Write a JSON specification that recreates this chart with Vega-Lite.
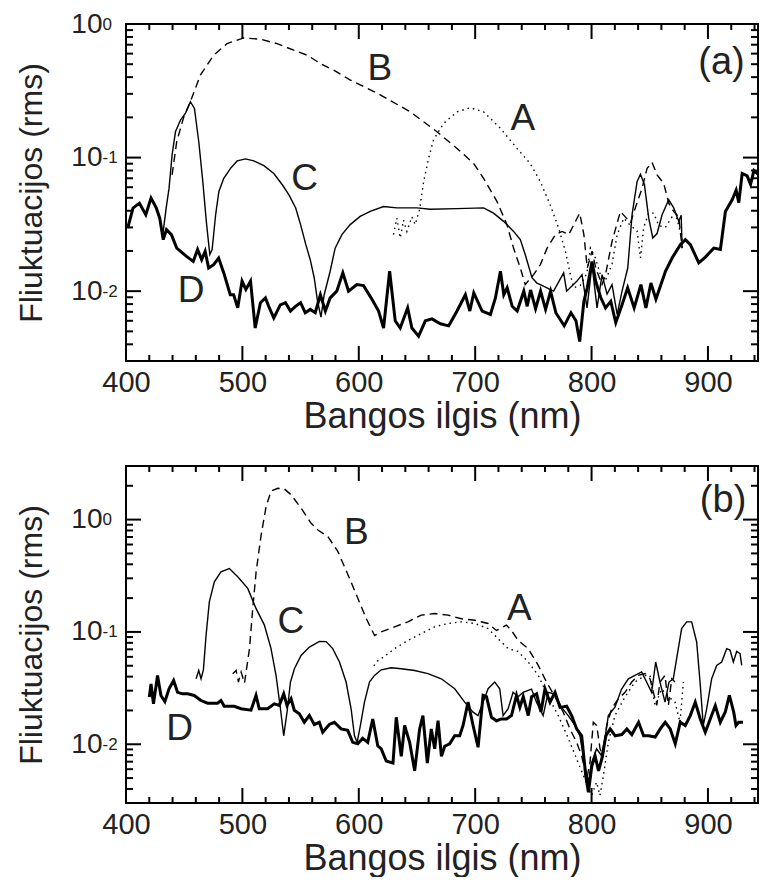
{
  "$schema": "https://vega.github.io/schema/vega-lite/v6.json",
  "padding": {"left": 14, "top": 9, "right": 0, "bottom": 0},
  "spacing": 29,
  "config": {
    "font": "Liberation Sans",
    "view": {"stroke": "#000", "strokeWidth": 2},
    "axis": {"grid": false, "domain": false, "labelFont": "Liberation Sans", "labelFontSize": 29, "labelColor": "#222", "titleFont": "Liberation Sans", "titleColor": "#222", "titleFontWeight": "normal", "labelFlush": false, "labelOverlap": false, "labelBound": false},
    "axisX": {"titleFontSize": 36},
    "axisY": {"titleFontSize": 32},
    "rule": {"color": "#000", "strokeWidth": 2, "opacity": 1}
  },
  "datasets": {
    "a": [
      {"s":"D","x":401.5,"y":0.0297},{"s":"D","x":406,"y":0.0419},{"s":"D","x":411.5,"y":0.0456},{"s":"D","x":417,"y":0.0373},{"s":"D","x":421.5,"y":0.0497},{"s":"D","x":426,"y":0.042},{"s":"D","x":429,"y":0.0352},{"s":"D","x":432,"y":0.0243},{"s":"D","x":434.8,"y":0.0289},{"s":"D","x":439,"y":0.0265},{"s":"D","x":443.6,"y":0.021},{"s":"D","x":452,"y":0.0182},{"s":"D","x":457.8,"y":0.0167},{"s":"D","x":461.5,"y":0.0205},{"s":"D","x":465,"y":0.0172},{"s":"D","x":468,"y":0.0199},{"s":"D","x":471,"y":0.0149},{"s":"D","x":475.3,"y":0.0158},{"s":"D","x":479.6,"y":0.0177},{"s":"D","x":484,"y":0.0137},{"s":"D","x":489.6,"y":0.0094},{"s":"D","x":492.5,"y":0.0094},{"s":"D","x":496,"y":0.0075},{"s":"D","x":499.7,"y":0.0119},{"s":"D","x":503,"y":0.0103},{"s":"D","x":507,"y":0.0119},{"s":"D","x":511,"y":0.0053},{"s":"D","x":515.5,"y":0.0082},{"s":"D","x":519.8,"y":0.0089},{"s":"D","x":522.6,"y":0.0077},{"s":"D","x":527,"y":0.0063},{"s":"D","x":532.6,"y":0.0079},{"s":"D","x":537,"y":0.0082},{"s":"D","x":541.3,"y":0.0071},{"s":"D","x":545.6,"y":0.0077},{"s":"D","x":550,"y":0.0082},{"s":"D","x":554,"y":0.0069},{"s":"D","x":558.3,"y":0.0073},{"s":"D","x":562.6,"y":0.0069},{"s":"D","x":567,"y":0.0094},{"s":"D","x":571.3,"y":0.0071},{"s":"D","x":575.4,"y":0.0089},{"s":"D","x":581.1,"y":0.010},{"s":"D","x":586.3,"y":0.0137},{"s":"D","x":591.2,"y":0.010},{"s":"D","x":598.3,"y":0.0112},{"s":"D","x":604.1,"y":0.011},{"s":"D","x":611.3,"y":0.0087},{"s":"D","x":617,"y":0.0071},{"s":"D","x":621.3,"y":0.0053},{"s":"D","x":626.5,"y":0.0141},{"s":"D","x":631.3,"y":0.006},{"s":"D","x":635.6,"y":0.0053},{"s":"D","x":642,"y":0.0075},{"s":"D","x":645.6,"y":0.0053},{"s":"D","x":651.4,"y":0.0046},{"s":"D","x":657.2,"y":0.006},{"s":"D","x":662.9,"y":0.0062},{"s":"D","x":670.1,"y":0.0057},{"s":"D","x":677.3,"y":0.0055},{"s":"D","x":684.4,"y":0.0071},{"s":"D","x":691.6,"y":0.0094},{"s":"D","x":695.4,"y":0.0071},{"s":"D","x":698.8,"y":0.0097},{"s":"D","x":706,"y":0.0071},{"s":"D","x":713.1,"y":0.0067},{"s":"D","x":717.4,"y":0.0089},{"s":"D","x":721.7,"y":0.0141},{"s":"D","x":724.6,"y":0.0094},{"s":"D","x":727.5,"y":0.0106},{"s":"D","x":731.8,"y":0.0077},{"s":"D","x":736.1,"y":0.0071},{"s":"D","x":741.8,"y":0.010},{"s":"D","x":744.7,"y":0.0077},{"s":"D","x":747.6,"y":0.0102},{"s":"D","x":751.9,"y":0.0074},{"s":"D","x":756.2,"y":0.010},{"s":"D","x":760.5,"y":0.0073},{"s":"D","x":764.8,"y":0.010},{"s":"D","x":769.3,"y":0.0069},{"s":"D","x":776.5,"y":0.0055},{"s":"D","x":782.3,"y":0.0069},{"s":"D","x":786.6,"y":0.006},{"s":"D","x":789.8,"y":0.0042},{"s":"D","x":793.4,"y":0.0084},{"s":"D","x":796.3,"y":0.0106},{"s":"D","x":800.4,"y":0.0167},{"s":"D","x":803.6,"y":0.0118},{"s":"D","x":807.8,"y":0.009},{"s":"D","x":812,"y":0.0075},{"s":"D","x":816.5,"y":0.0084},{"s":"D","x":820.8,"y":0.0058},{"s":"D","x":826.2,"y":0.0079},{"s":"D","x":831,"y":0.0106},{"s":"D","x":836.6,"y":0.0075},{"s":"D","x":842.4,"y":0.0112},{"s":"D","x":846.7,"y":0.0075},{"s":"D","x":851,"y":0.0115},{"s":"D","x":855.3,"y":0.0087},{"s":"D","x":859.6,"y":0.0112},{"s":"D","x":863.5,"y":0.0141},{"s":"D","x":869.2,"y":0.0177},{"s":"D","x":876.3,"y":0.0223},{"s":"D","x":880.6,"y":0.0243},{"s":"D","x":884.9,"y":0.0223},{"s":"D","x":892.1,"y":0.0163},{"s":"D","x":897.8,"y":0.018},{"s":"D","x":905,"y":0.021},{"s":"D","x":910.7,"y":0.0205},{"s":"D","x":915,"y":0.0395},{"s":"D","x":920.8,"y":0.0483},{"s":"D","x":924.2,"y":0.057},{"s":"D","x":926.5,"y":0.046},{"s":"D","x":929.4,"y":0.076},{"s":"D","x":933.7,"y":0.073},{"s":"D","x":936.6,"y":0.063},{"s":"D","x":939.5,"y":0.08},{"s":"D","x":943,"y":0.075},
      {"s":"C","x":431.6,"y":0.0265},{"s":"C","x":434.5,"y":0.0419},{"s":"C","x":437,"y":0.059},{"s":"C","x":439.6,"y":0.105},{"s":"C","x":442.5,"y":0.156},{"s":"C","x":446.8,"y":0.191},{"s":"C","x":451,"y":0.214},{"s":"C","x":455.3,"y":0.262},{"s":"C","x":458.8,"y":0.233},{"s":"C","x":462.5,"y":0.132},{"s":"C","x":466,"y":0.066},{"s":"C","x":469,"y":0.0333},{"s":"C","x":472,"y":0.0188},{"s":"C","x":474,"y":0.0205},{"s":"C","x":477,"y":0.0373},{"s":"C","x":479.8,"y":0.0557},{"s":"C","x":484,"y":0.070},{"s":"C","x":489.8,"y":0.083},{"s":"C","x":495.5,"y":0.0944},{"s":"C","x":502.7,"y":0.0977},{"s":"C","x":509.8,"y":0.0944},{"s":"C","x":518.5,"y":0.087},{"s":"C","x":527,"y":0.076},{"s":"C","x":534.3,"y":0.0626},{"s":"C","x":540,"y":0.0526},{"s":"C","x":545.8,"y":0.0419},{"s":"C","x":550,"y":0.0315},{"s":"C","x":554.5,"y":0.0223},{"s":"C","x":558.3,"y":0.0172},{"s":"C","x":561.7,"y":0.0126},{"s":"C","x":564.6,"y":0.0084},{"s":"C","x":567.5,"y":0.0064},{"s":"C","x":570.3,"y":0.0094},{"s":"C","x":575.4,"y":0.0141},{"s":"C","x":579.7,"y":0.021},{"s":"C","x":585.5,"y":0.0265},{"s":"C","x":592.6,"y":0.0315},{"s":"C","x":601.2,"y":0.0363},{"s":"C","x":609.8,"y":0.0395},{"s":"C","x":621.3,"y":0.043},{"s":"C","x":632.7,"y":0.042},{"s":"C","x":650,"y":0.042},{"s":"C","x":661.4,"y":0.041},{"s":"C","x":684.4,"y":0.0415},{"s":"C","x":707.2,"y":0.042},{"s":"C","x":715.8,"y":0.0384},{"s":"C","x":724.4,"y":0.0333},{"s":"C","x":733,"y":0.028},{"s":"C","x":738.8,"y":0.0243},{"s":"C","x":743,"y":0.0188},{"s":"C","x":748.8,"y":0.0126},{"s":"C","x":753,"y":0.0115},{"s":"C","x":756,"y":0.0112},{"s":"C","x":767.4,"y":0.010},{"s":"C","x":776,"y":0.0137},{"s":"C","x":778.6,"y":0.010},{"s":"C","x":787.5,"y":0.0119},{"s":"C","x":791.8,"y":0.0133},{"s":"C","x":796.1,"y":0.0075},{"s":"C","x":800.4,"y":0.0158},{"s":"C","x":804.7,"y":0.0075},{"s":"C","x":809,"y":0.0133},{"s":"C","x":813.3,"y":0.0095},{"s":"C","x":817.6,"y":0.0112},{"s":"C","x":822,"y":0.0067},{"s":"C","x":826.2,"y":0.010},{"s":"C","x":831.1,"y":0.0149},{"s":"C","x":834.8,"y":0.0373},{"s":"C","x":839.1,"y":0.066},{"s":"C","x":842,"y":0.075},{"s":"C","x":845.4,"y":0.063},{"s":"C","x":849.1,"y":0.0352},{"s":"C","x":852.6,"y":0.025},{"s":"C","x":856.3,"y":0.027},{"s":"C","x":860.6,"y":0.0373},{"s":"C","x":866.3,"y":0.0483},{"s":"C","x":870.6,"y":0.042},{"s":"C","x":874.9,"y":0.0333},{"s":"C","x":877,"y":0.037},{"s":"C","x":877.8,"y":0.021},
      {"s":"B","x":439.6,"y":0.0743},{"s":"B","x":443.6,"y":0.132},{"s":"B","x":449.3,"y":0.197},{"s":"B","x":455.3,"y":0.262},{"s":"B","x":463.9,"y":0.414},{"s":"B","x":475.3,"y":0.584},{"s":"B","x":486.8,"y":0.713},{"s":"B","x":501.1,"y":0.787},{"s":"B","x":515.5,"y":0.769},{"s":"B","x":529.8,"y":0.713},{"s":"B","x":544.1,"y":0.637},{"s":"B","x":555.6,"y":0.584},{"s":"B","x":567,"y":0.506},{"s":"B","x":578.5,"y":0.451},{"s":"B","x":592.8,"y":0.38},{"s":"B","x":607.1,"y":0.33},{"s":"B","x":618.4,"y":0.295},{"s":"B","x":644.2,"y":0.22},{"s":"B","x":667.2,"y":0.156},{"s":"B","x":684.4,"y":0.117},{"s":"B","x":698.6,"y":0.0907},{"s":"B","x":707.2,"y":0.070},{"s":"B","x":718.7,"y":0.047},{"s":"B","x":727.3,"y":0.0315},{"s":"B","x":733,"y":0.021},{"s":"B","x":738.8,"y":0.0149},{"s":"B","x":743,"y":0.0112},{"s":"B","x":750.2,"y":0.0133},{"s":"B","x":756,"y":0.0158},{"s":"B","x":761.8,"y":0.021},{"s":"B","x":769,"y":0.0265},{"s":"B","x":774.7,"y":0.028},{"s":"B","x":780.4,"y":0.0265},{"s":"B","x":783.3,"y":0.0297},{"s":"B","x":789.8,"y":0.0384},{"s":"B","x":793.4,"y":0.0265},{"s":"B","x":796.3,"y":0.0149},{"s":"B","x":800.4,"y":0.0199},{"s":"B","x":803.6,"y":0.0149},{"s":"B","x":809,"y":0.0112},{"s":"B","x":812,"y":0.0133},{"s":"B","x":817.6,"y":0.0236},{"s":"B","x":824.8,"y":0.0395},{"s":"B","x":829,"y":0.036},{"s":"B","x":833.4,"y":0.0324},{"s":"B","x":837.6,"y":0.042},{"s":"B","x":843.4,"y":0.059},{"s":"B","x":847.7,"y":0.083},{"s":"B","x":852,"y":0.092},{"s":"B","x":856.3,"y":0.0743},{"s":"B","x":862,"y":0.064},{"s":"B","x":866.3,"y":0.0456},{"s":"B","x":870.6,"y":0.0395},{"s":"B","x":874.9,"y":0.036},{"s":"B","x":877.8,"y":0.021},
      {"s":"A","x":629.8,"y":0.0265},{"s":"A","x":632.7,"y":0.0352},{"s":"A","x":635.6,"y":0.025},{"s":"A","x":638.5,"y":0.034},{"s":"A","x":641.3,"y":0.028},{"s":"A","x":645.6,"y":0.036},{"s":"A","x":648.5,"y":0.0315},{"s":"A","x":652.2,"y":0.0406},{"s":"A","x":655.7,"y":0.066},{"s":"A","x":660,"y":0.099},{"s":"A","x":664.2,"y":0.1355},{"s":"A","x":672.8,"y":0.18},{"s":"A","x":684.4,"y":0.22},{"s":"A","x":695.8,"y":0.236},{"s":"A","x":707.2,"y":0.22},{"s":"A","x":721.6,"y":0.166},{"s":"A","x":736,"y":0.117},{"s":"A","x":747.4,"y":0.09},{"s":"A","x":756,"y":0.066},{"s":"A","x":764.6,"y":0.044},{"s":"A","x":771.7,"y":0.0297},{"s":"A","x":777.5,"y":0.0199},{"s":"A","x":781.8,"y":0.0133},{"s":"A","x":784.6,"y":0.0106},{"s":"A","x":790.3,"y":0.011},{"s":"A","x":796.1,"y":0.0137},{"s":"A","x":799,"y":0.021},{"s":"A","x":803.3,"y":0.0177},{"s":"A","x":807.6,"y":0.0133},{"s":"A","x":811.9,"y":0.012},{"s":"A","x":817.6,"y":0.016},{"s":"A","x":822,"y":0.0265},{"s":"A","x":827.7,"y":0.0352},{"s":"A","x":833.4,"y":0.031},{"s":"A","x":839.1,"y":0.0283},{"s":"A","x":842,"y":0.0177},{"s":"A","x":844.8,"y":0.03},{"s":"A","x":849.1,"y":0.0384},{"s":"A","x":853.4,"y":0.0384},{"s":"A","x":857.7,"y":0.031},{"s":"A","x":863.4,"y":0.03},{"s":"A","x":869.2,"y":0.036},{"s":"A","x":873.5,"y":0.035},{"s":"A","x":877.8,"y":0.024}
    ],
    "b": [
      {"s":"D","x":420,"y":0.0263},{"s":"D","x":421.5,"y":0.0345},{"s":"D","x":423.6,"y":0.0229},{"s":"D","x":427.1,"y":0.041},{"s":"D","x":430,"y":0.0272},{"s":"D","x":433.4,"y":0.024},{"s":"D","x":437,"y":0.0312},{"s":"D","x":440.9,"y":0.037},{"s":"D","x":444.3,"y":0.029},{"s":"D","x":448.6,"y":0.0281},{"s":"D","x":452.9,"y":0.0281},{"s":"D","x":458.6,"y":0.0272},{"s":"D","x":464.4,"y":0.0245},{"s":"D","x":470.1,"y":0.0232},{"s":"D","x":478.7,"y":0.0232},{"s":"D","x":481.6,"y":0.0245},{"s":"D","x":484.4,"y":0.0218},{"s":"D","x":493,"y":0.0218},{"s":"D","x":498.8,"y":0.0207},{"s":"D","x":507.4,"y":0.0201},{"s":"D","x":511.7,"y":0.0272},{"s":"D","x":514.5,"y":0.0207},{"s":"D","x":521.7,"y":0.0207},{"s":"D","x":527.4,"y":0.0229},{"s":"D","x":531.7,"y":0.0222},{"s":"D","x":535.5,"y":0.0281},{"s":"D","x":538.3,"y":0.0222},{"s":"D","x":541.8,"y":0.0254},{"s":"D","x":544.6,"y":0.0201},{"s":"D","x":548.9,"y":0.0187},{"s":"D","x":553.2,"y":0.0157},{"s":"D","x":557.5,"y":0.018},{"s":"D","x":561.8,"y":0.015},{"s":"D","x":566.1,"y":0.0157},{"s":"D","x":569,"y":0.0128},{"s":"D","x":574.7,"y":0.015},{"s":"D","x":579,"y":0.0157},{"s":"D","x":584.8,"y":0.0137},{"s":"D","x":590.5,"y":0.0133},{"s":"D","x":594.8,"y":0.0104},{"s":"D","x":599.1,"y":0.0101},{"s":"D","x":603.4,"y":0.0113},{"s":"D","x":607.7,"y":0.0104},{"s":"D","x":612,"y":0.0168},{"s":"D","x":616.3,"y":0.0097},{"s":"D","x":619.3,"y":0.0091},{"s":"D","x":623.6,"y":0.0071},{"s":"D","x":629.4,"y":0.0068},{"s":"D","x":632.2,"y":0.0174},{"s":"D","x":636.5,"y":0.0078},{"s":"D","x":639.4,"y":0.0147},{"s":"D","x":643.7,"y":0.0104},{"s":"D","x":648,"y":0.0058},{"s":"D","x":652.3,"y":0.0137},{"s":"D","x":655.1,"y":0.018},{"s":"D","x":658.9,"y":0.0068},{"s":"D","x":662.3,"y":0.0137},{"s":"D","x":665.2,"y":0.0091},{"s":"D","x":668.1,"y":0.0162},{"s":"D","x":671,"y":0.0078},{"s":"D","x":673.8,"y":0.0096},{"s":"D","x":678.1,"y":0.0101},{"s":"D","x":682.4,"y":0.0119},{"s":"D","x":686.7,"y":0.0119},{"s":"D","x":689.6,"y":0.0147},{"s":"D","x":693.9,"y":0.0237},{"s":"D","x":698.2,"y":0.0147},{"s":"D","x":702.5,"y":0.0094},{"s":"D","x":706.8,"y":0.0272},{"s":"D","x":709.7,"y":0.0265},{"s":"D","x":714,"y":0.0174},{"s":"D","x":718.3,"y":0.0162},{"s":"D","x":722.6,"y":0.0168},{"s":"D","x":726.9,"y":0.0168},{"s":"D","x":731.2,"y":0.018},{"s":"D","x":735.5,"y":0.0272},{"s":"D","x":738.4,"y":0.0213},{"s":"D","x":741.3,"y":0.0265},{"s":"D","x":745.6,"y":0.018},{"s":"D","x":748.5,"y":0.0265},{"s":"D","x":752.8,"y":0.0281},{"s":"D","x":756.5,"y":0.0194},{"s":"D","x":760,"y":0.0312},{"s":"D","x":764.3,"y":0.0237},{"s":"D","x":768.6,"y":0.029},{"s":"D","x":772.9,"y":0.0213},{"s":"D","x":778.6,"y":0.0218},{"s":"D","x":782.9,"y":0.018},{"s":"D","x":787.2,"y":0.0137},{"s":"D","x":791.5,"y":0.0119},{"s":"D","x":795,"y":0.00525},{"s":"D","x":797.3,"y":0.00373},{"s":"D","x":800.2,"y":0.0064},{"s":"D","x":803,"y":0.0079},{"s":"D","x":806,"y":0.0058},{"s":"D","x":808.8,"y":0.0074},{"s":"D","x":812.3,"y":0.0119},{"s":"D","x":816,"y":0.0137},{"s":"D","x":820.3,"y":0.0119},{"s":"D","x":826,"y":0.0122},{"s":"D","x":830.3,"y":0.0137},{"s":"D","x":834.6,"y":0.0122},{"s":"D","x":840.4,"y":0.0157},{"s":"D","x":844.7,"y":0.0119},{"s":"D","x":849,"y":0.0119},{"s":"D","x":854.7,"y":0.0116},{"s":"D","x":859,"y":0.0137},{"s":"D","x":863.3,"y":0.0157},{"s":"D","x":867.6,"y":0.0137},{"s":"D","x":871.9,"y":0.0101},{"s":"D","x":876.2,"y":0.0157},{"s":"D","x":880.5,"y":0.0147},{"s":"D","x":884.8,"y":0.018},{"s":"D","x":889.1,"y":0.0237},{"s":"D","x":893.4,"y":0.0168},{"s":"D","x":897.7,"y":0.0128},{"s":"D","x":902,"y":0.0168},{"s":"D","x":906.3,"y":0.0221},{"s":"D","x":910.6,"y":0.0157},{"s":"D","x":914.9,"y":0.0194},{"s":"D","x":918.4,"y":0.0272},{"s":"D","x":922.1,"y":0.0194},{"s":"D","x":924.1,"y":0.0147},{"s":"D","x":926.4,"y":0.0157},{"s":"D","x":930.1,"y":0.0157},
      {"s":"C","x":460.2,"y":0.0383},{"s":"C","x":462.5,"y":0.0454},{"s":"C","x":464.5,"y":0.0383},{"s":"C","x":466.5,"y":0.046},{"s":"C","x":468.8,"y":0.0933},{"s":"C","x":471.6,"y":0.185},{"s":"C","x":475.9,"y":0.279},{"s":"C","x":481.6,"y":0.343},{"s":"C","x":488.8,"y":0.367},{"s":"C","x":496,"y":0.31},{"s":"C","x":504.6,"y":0.244},{"s":"C","x":511.7,"y":0.162},{"s":"C","x":518.9,"y":0.115},{"s":"C","x":524.6,"y":0.071},{"s":"C","x":528.9,"y":0.041},{"s":"C","x":532.7,"y":0.0207},{"s":"C","x":535.5,"y":0.0119},{"s":"C","x":538.4,"y":0.0194},{"s":"C","x":541.3,"y":0.0358},{"s":"C","x":544.7,"y":0.047},{"s":"C","x":550.4,"y":0.0618},{"s":"C","x":557.6,"y":0.0734},{"s":"C","x":566.2,"y":0.0824},{"s":"C","x":571.9,"y":0.082},{"s":"C","x":577.6,"y":0.071},{"s":"C","x":583.4,"y":0.054},{"s":"C","x":589.1,"y":0.0358},{"s":"C","x":593.4,"y":0.0207},{"s":"C","x":596.3,"y":0.0119},{"s":"C","x":598.6,"y":0.0104},{"s":"C","x":601.4,"y":0.0147},{"s":"C","x":604.9,"y":0.0237},{"s":"C","x":609.2,"y":0.0358},{"s":"C","x":613.5,"y":0.041},{"s":"C","x":619.3,"y":0.046},{"s":"C","x":627.9,"y":0.048},{"s":"C","x":636.5,"y":0.047},{"s":"C","x":648,"y":0.0454},{"s":"C","x":659.4,"y":0.0426},{"s":"C","x":670.9,"y":0.0383},{"s":"C","x":682.4,"y":0.0312},{"s":"C","x":691,"y":0.0237},{"s":"C","x":698.2,"y":0.0193},{"s":"C","x":702.5,"y":0.018},{"s":"C","x":706.8,"y":0.0237},{"s":"C","x":711.1,"y":0.0312},{"s":"C","x":716.8,"y":0.0358},{"s":"C","x":721.1,"y":0.0312},{"s":"C","x":724,"y":0.018},{"s":"C","x":728.3,"y":0.0207},{"s":"C","x":732.6,"y":0.029},{"s":"C","x":736.9,"y":0.0265},{"s":"C","x":741.2,"y":0.029},{"s":"C","x":748.4,"y":0.031},{"s":"C","x":752.7,"y":0.0237},{"s":"C","x":758.4,"y":0.018},{"s":"C","x":762.7,"y":0.029},{"s":"C","x":768.5,"y":0.028},{"s":"C","x":774.2,"y":0.0213},{"s":"C","x":780,"y":0.018},{"s":"C","x":785.7,"y":0.0147},{"s":"C","x":790,"y":0.0119},{"s":"C","x":794.3,"y":0.0064},{"s":"C","x":797.2,"y":0.00458},{"s":"C","x":800,"y":0.0068},{"s":"C","x":804.3,"y":0.0091},{"s":"C","x":808.6,"y":0.0079},{"s":"C","x":811.5,"y":0.0113},{"s":"C","x":814.4,"y":0.018},{"s":"C","x":820.1,"y":0.0214},{"s":"C","x":825.8,"y":0.031},{"s":"C","x":831.6,"y":0.0383},{"s":"C","x":837.3,"y":0.041},{"s":"C","x":843,"y":0.044},{"s":"C","x":847.3,"y":0.0358},{"s":"C","x":851.6,"y":0.029},{"s":"C","x":855.1,"y":0.054},{"s":"C","x":858.8,"y":0.0358},{"s":"C","x":863.1,"y":0.0237},{"s":"C","x":866.5,"y":0.0358},{"s":"C","x":870.2,"y":0.0383},{"s":"C","x":873.1,"y":0.0578},{"s":"C","x":877.4,"y":0.107},{"s":"C","x":881.7,"y":0.123},{"s":"C","x":886,"y":0.123},{"s":"C","x":890.3,"y":0.0814},{"s":"C","x":893.2,"y":0.0358},{"s":"C","x":896,"y":0.0147},{"s":"C","x":898.9,"y":0.0207},{"s":"C","x":903.2,"y":0.0383},{"s":"C","x":907.5,"y":0.0503},{"s":"C","x":911.8,"y":0.054},{"s":"C","x":916.1,"y":0.071},{"s":"C","x":919,"y":0.069},{"s":"C","x":921.8,"y":0.054},{"s":"C","x":924.7,"y":0.067},{"s":"C","x":927.6,"y":0.064},{"s":"C","x":929,"y":0.0503},
      {"s":"B","x":491.7,"y":0.0425},{"s":"B","x":494.6,"y":0.0454},{"s":"B","x":496.6,"y":0.0358},{"s":"B","x":498.9,"y":0.044},{"s":"B","x":501.8,"y":0.035},{"s":"B","x":506.1,"y":0.071},{"s":"B","x":508.9,"y":0.162},{"s":"B","x":511.8,"y":0.343},{"s":"B","x":516.1,"y":0.729},{"s":"B","x":520.4,"y":1.31},{"s":"B","x":524.7,"y":1.80},{"s":"B","x":530.4,"y":1.90},{"s":"B","x":536.2,"y":1.87},{"s":"B","x":541.9,"y":1.66},{"s":"B","x":550.5,"y":1.26},{"s":"B","x":559.1,"y":0.927},{"s":"B","x":564.9,"y":0.807},{"s":"B","x":573.5,"y":0.705},{"s":"B","x":582.1,"y":0.518},{"s":"B","x":592.1,"y":0.299},{"s":"B","x":599.3,"y":0.198},{"s":"B","x":606.5,"y":0.131},{"s":"B","x":613.6,"y":0.093},{"s":"B","x":619.3,"y":0.10},{"s":"B","x":630.8,"y":0.111},{"s":"B","x":642.2,"y":0.123},{"s":"B","x":653.7,"y":0.141},{"s":"B","x":665.2,"y":0.146},{"s":"B","x":676.7,"y":0.141},{"s":"B","x":688.2,"y":0.131},{"s":"B","x":699.6,"y":0.127},{"s":"B","x":711.1,"y":0.119},{"s":"B","x":718.3,"y":0.103},{"s":"B","x":726.9,"y":0.115},{"s":"B","x":731.2,"y":0.103},{"s":"B","x":736.9,"y":0.084},{"s":"B","x":745.6,"y":0.071},{"s":"B","x":754.2,"y":0.0503},{"s":"B","x":761.3,"y":0.0358},{"s":"B","x":768.5,"y":0.0265},{"s":"B","x":775.7,"y":0.0193},{"s":"B","x":781.4,"y":0.0137},{"s":"B","x":787.2,"y":0.0104},{"s":"B","x":791.5,"y":0.0079},{"s":"B","x":795.8,"y":0.0049},{"s":"B","x":798.6,"y":0.0068},{"s":"B","x":801.5,"y":0.0157},{"s":"B","x":804.4,"y":0.0147},{"s":"B","x":807.3,"y":0.0091},{"s":"B","x":810.1,"y":0.0079},{"s":"B","x":813,"y":0.0147},{"s":"B","x":817.3,"y":0.0207},{"s":"B","x":823,"y":0.0254},{"s":"B","x":828.8,"y":0.029},{"s":"B","x":834.5,"y":0.0358},{"s":"B","x":840.2,"y":0.041},{"s":"B","x":845.9,"y":0.0426},{"s":"B","x":850.2,"y":0.0383},{"s":"B","x":853.1,"y":0.029},{"s":"B","x":856,"y":0.0222},{"s":"B","x":858.8,"y":0.0358},{"s":"B","x":863.1,"y":0.041},{"s":"B","x":866,"y":0.0222},{"s":"B","x":868.9,"y":0.0383},{"s":"B","x":871.7,"y":0.0358},
      {"s":"A","x":613,"y":0.05},{"s":"A","x":616,"y":0.055},{"s":"A","x":619.3,"y":0.0578},{"s":"A","x":630.8,"y":0.071},{"s":"A","x":642.2,"y":0.084},{"s":"A","x":653.7,"y":0.0966},{"s":"A","x":665.2,"y":0.111},{"s":"A","x":676.7,"y":0.119},{"s":"A","x":688.2,"y":0.123},{"s":"A","x":699.6,"y":0.119},{"s":"A","x":711.1,"y":0.107},{"s":"A","x":719.7,"y":0.087},{"s":"A","x":728.3,"y":0.071},{"s":"A","x":736.9,"y":0.067},{"s":"A","x":745.6,"y":0.054},{"s":"A","x":754.2,"y":0.041},{"s":"A","x":762.8,"y":0.0265},{"s":"A","x":771.4,"y":0.018},{"s":"A","x":780,"y":0.0113},{"s":"A","x":788.6,"y":0.0068},{"s":"A","x":794.3,"y":0.0049},{"s":"A","x":800,"y":0.0035},{"s":"A","x":804.3,"y":0.0046},{"s":"A","x":807.2,"y":0.0035},{"s":"A","x":810.1,"y":0.0052},{"s":"A","x":814.4,"y":0.0104},{"s":"A","x":820.1,"y":0.018},{"s":"A","x":828.8,"y":0.0265},{"s":"A","x":837.3,"y":0.0358},{"s":"A","x":845.9,"y":0.041},{"s":"A","x":850.2,"y":0.041},{"s":"A","x":854.5,"y":0.0222},{"s":"A","x":860.2,"y":0.031},{"s":"A","x":866,"y":0.0265},{"s":"A","x":871.7,"y":0.0237},{"s":"A","x":876,"y":0.0157},{"s":"A","x":878.9,"y":0.0358}
    ],
    "la": [
      {"t":"B","x":618,"y":0.46},{"t":"A","x":741,"y":0.195},{"t":"C","x":553.5,"y":0.0686},{"t":"D","x":456,"y":0.01}
    ],
    "pa": [{"t":"(a)","x":911.6,"y":0.51}],
    "lb": [
      {"t":"B","x":598,"y":0.76},{"t":"A","x":738,"y":0.161},{"t":"C","x":541.6,"y":0.1236},{"t":"D","x":446,"y":0.0137}
    ],
    "pb": [{"t":"(b)","x":913,"y":1.456}],
    "xt": [
      {"v":400,"m":"M"},{"v":420,"m":"m"},{"v":440,"m":"m"},{"v":460,"m":"m"},{"v":480,"m":"m"},{"v":500,"m":"M"},{"v":520,"m":"m"},{"v":540,"m":"m"},{"v":560,"m":"m"},{"v":580,"m":"m"},{"v":600,"m":"M"},{"v":620,"m":"m"},{"v":640,"m":"m"},{"v":660,"m":"m"},{"v":680,"m":"m"},{"v":700,"m":"M"},{"v":720,"m":"m"},{"v":740,"m":"m"},{"v":760,"m":"m"},{"v":780,"m":"m"},{"v":800,"m":"M"},{"v":820,"m":"m"},{"v":840,"m":"m"},{"v":860,"m":"m"},{"v":880,"m":"m"},{"v":900,"m":"M"},{"v":920,"m":"m"},{"v":940,"m":"m"}
    ],
    "yta": [
      {"v":0.003,"m":"m"},{"v":0.004,"m":"m"},{"v":0.005,"m":"m"},{"v":0.006,"m":"m"},{"v":0.007,"m":"m"},{"v":0.008,"m":"m"},{"v":0.009,"m":"m"},{"v":0.01,"m":"M"},{"v":0.02,"m":"m"},{"v":0.03,"m":"m"},{"v":0.04,"m":"m"},{"v":0.05,"m":"m"},{"v":0.06,"m":"m"},{"v":0.07,"m":"m"},{"v":0.08,"m":"m"},{"v":0.09,"m":"m"},{"v":0.1,"m":"M"},{"v":0.2,"m":"m"},{"v":0.3,"m":"m"},{"v":0.4,"m":"m"},{"v":0.5,"m":"m"},{"v":0.6,"m":"m"},{"v":0.7,"m":"m"},{"v":0.8,"m":"m"},{"v":0.9,"m":"m"},{"v":1,"m":"M"}
    ],
    "ytb": [
      {"v":0.003,"m":"m"},{"v":0.004,"m":"m"},{"v":0.005,"m":"m"},{"v":0.006,"m":"m"},{"v":0.007,"m":"m"},{"v":0.008,"m":"m"},{"v":0.009,"m":"m"},{"v":0.01,"m":"M"},{"v":0.02,"m":"m"},{"v":0.03,"m":"m"},{"v":0.04,"m":"m"},{"v":0.05,"m":"m"},{"v":0.06,"m":"m"},{"v":0.07,"m":"m"},{"v":0.08,"m":"m"},{"v":0.09,"m":"m"},{"v":0.1,"m":"M"},{"v":0.2,"m":"m"},{"v":0.3,"m":"m"},{"v":0.4,"m":"m"},{"v":0.5,"m":"m"},{"v":0.6,"m":"m"},{"v":0.7,"m":"m"},{"v":0.8,"m":"m"},{"v":0.9,"m":"m"},{"v":1,"m":"M"},{"v":2,"m":"m"},{"v":3,"m":"m"}
    ]
  },
  "vconcat": [
    {
      "width": 632, "height": 337,
      "encoding": {
        "x": {"type": "quantitative", "scale": {"domain": [400, 943], "nice": false, "zero": false}},
        "y": {"type": "quantitative", "scale": {"type": "log", "domain": [0.003, 1], "nice": false}}
      },
      "layer": [
        {
          "data": {"name": "a"},
          "transform": [{"filter": "datum.s == 'A'"}],
          "mark": {"type": "line", "clip": true, "color": "#000", "strokeWidth": 1.4, "strokeDash": [1.5, 4]},
          "encoding": {
            "x": {"field": "x", "type": "quantitative", "axis": {"orient": "bottom", "title": "Bangos ilgis (nm)", "values": [400, 500, 600, 700, 800, 900], "ticks": false, "labelPadding": 7, "titlePadding": 2}},
            "y": {"field": "y", "type": "quantitative", "axis": {"orient": "left", "title": "Fliuktuacijos (rms)", "values": [0.01, 0.1, 1], "labelExpr": "'10'", "labelFontSize": 28, "ticks": false, "labelPadding": 24, "titlePadding": 22}}
          }
        },
        {
          "data": {"name": "a"},
          "transform": [{"filter": "datum.s == 'B'"}],
          "mark": {"type": "line", "clip": true, "color": "#000", "strokeWidth": 1.4, "strokeDash": [8, 5]},
          "encoding": {"x": {"field": "x", "type": "quantitative", "axis": null}, "y": {"field": "y", "type": "quantitative", "axis": null}}
        },
        {
          "data": {"name": "a"},
          "transform": [{"filter": "datum.s == 'C'"}],
          "mark": {"type": "line", "clip": true, "color": "#000", "strokeWidth": 1.4},
          "encoding": {"x": {"field": "x", "type": "quantitative", "axis": null}, "y": {"field": "y", "type": "quantitative", "axis": null}}
        },
        {
          "data": {"name": "a"},
          "transform": [{"filter": "datum.s == 'D'"}],
          "mark": {"type": "line", "clip": true, "color": "#000", "strokeWidth": 3},
          "encoding": {"x": {"field": "x", "type": "quantitative", "axis": null}, "y": {"field": "y", "type": "quantitative", "axis": null}}
        },
        {
          "data": {"name": "la"},
          "mark": {"type": "text", "fontSize": 37, "color": "#222", "font": "Liberation Sans"},
          "encoding": {"x": {"field": "x", "type": "quantitative", "axis": null}, "y": {"field": "y", "type": "quantitative", "axis": null}, "text": {"field": "t"}}
        },
        {
          "data": {"name": "pa"},
          "mark": {"type": "text", "fontSize": 38, "color": "#222", "font": "Liberation Sans"},
          "encoding": {
            "x": {"field": "x", "type": "quantitative", "axis": null},
            "y": {"field": "y", "type": "quantitative", "axis": {"orient": "left", "title": null, "ticks": false, "values": [0.01, 0.1, 1], "labelExpr": "datum.value == 1 ? '0' : datum.value == 0.1 ? '-1' : '-2'", "labelFontSize": 17, "labelAlign": "left", "labelPadding": 24, "labelDy": -11}},
            "text": {"field": "t"}
          }
        },
        {"data": {"name": "xt"}, "transform": [{"filter": "datum.m == 'M'"}], "mark": {"type": "rule", "y2Offset": -15},
         "encoding": {"x": {"field": "v", "type": "quantitative", "axis": null}, "y": {"datum": 0.003, "type": "quantitative", "axis": null}, "y2": {"datum": 0.003}}},
        {"data": {"name": "xt"}, "transform": [{"filter": "datum.m == 'm'"}], "mark": {"type": "rule", "y2Offset": -6},
         "encoding": {"x": {"field": "v", "type": "quantitative", "axis": null}, "y": {"datum": 0.003, "type": "quantitative", "axis": null}, "y2": {"datum": 0.003}}},
        {"data": {"name": "xt"}, "transform": [{"filter": "datum.m == 'M'"}], "mark": {"type": "rule", "y2Offset": 15},
         "encoding": {"x": {"field": "v", "type": "quantitative", "axis": null}, "y": {"datum": 1, "type": "quantitative", "axis": null}, "y2": {"datum": 1}}},
        {"data": {"name": "xt"}, "transform": [{"filter": "datum.m == 'm'"}], "mark": {"type": "rule", "y2Offset": 6},
         "encoding": {"x": {"field": "v", "type": "quantitative", "axis": null}, "y": {"datum": 1, "type": "quantitative", "axis": null}, "y2": {"datum": 1}}},
        {"data": {"name": "yta"}, "transform": [{"filter": "datum.m == 'M'"}], "mark": {"type": "rule", "x2Offset": 15},
         "encoding": {"y": {"field": "v", "type": "quantitative", "axis": null}, "x": {"datum": 400, "type": "quantitative", "axis": null}, "x2": {"datum": 400}}},
        {"data": {"name": "yta"}, "transform": [{"filter": "datum.m == 'm'"}], "mark": {"type": "rule", "x2Offset": 7},
         "encoding": {"y": {"field": "v", "type": "quantitative", "axis": null}, "x": {"datum": 400, "type": "quantitative", "axis": null}, "x2": {"datum": 400}}},
        {"data": {"name": "yta"}, "transform": [{"filter": "datum.m == 'M'"}], "mark": {"type": "rule", "x2Offset": -15},
         "encoding": {"y": {"field": "v", "type": "quantitative", "axis": null}, "x": {"datum": 943, "type": "quantitative", "axis": null}, "x2": {"datum": 943}}},
        {"data": {"name": "yta"}, "transform": [{"filter": "datum.m == 'm'"}], "mark": {"type": "rule", "x2Offset": -7},
         "encoding": {"y": {"field": "v", "type": "quantitative", "axis": null}, "x": {"datum": 943, "type": "quantitative", "axis": null}, "x2": {"datum": 943}}}
      ],
      "resolve": {"axis": {"x": "independent", "y": "independent"}}
    },
    {
      "width": 632, "height": 337,
      "encoding": {
        "x": {"type": "quantitative", "scale": {"domain": [400, 943], "nice": false, "zero": false}},
        "y": {"type": "quantitative", "scale": {"type": "log", "domain": [0.003, 3], "nice": false}}
      },
      "layer": [
        {
          "data": {"name": "b"},
          "transform": [{"filter": "datum.s == 'A'"}],
          "mark": {"type": "line", "clip": true, "color": "#000", "strokeWidth": 1.4, "strokeDash": [1.5, 4]},
          "encoding": {
            "x": {"field": "x", "type": "quantitative", "axis": {"orient": "bottom", "title": "Bangos ilgis (nm)", "values": [400, 500, 600, 700, 800, 900], "ticks": false, "labelPadding": 7, "titlePadding": 2}},
            "y": {"field": "y", "type": "quantitative", "axis": {"orient": "left", "title": "Fliuktuacijos (rms)", "values": [0.01, 0.1, 1], "labelExpr": "'10'", "labelFontSize": 28, "ticks": false, "labelPadding": 24, "titlePadding": 22}}
          }
        },
        {
          "data": {"name": "b"},
          "transform": [{"filter": "datum.s == 'B'"}],
          "mark": {"type": "line", "clip": true, "color": "#000", "strokeWidth": 1.4, "strokeDash": [8, 5]},
          "encoding": {"x": {"field": "x", "type": "quantitative", "axis": null}, "y": {"field": "y", "type": "quantitative", "axis": null}}
        },
        {
          "data": {"name": "b"},
          "transform": [{"filter": "datum.s == 'C'"}],
          "mark": {"type": "line", "clip": true, "color": "#000", "strokeWidth": 1.4},
          "encoding": {"x": {"field": "x", "type": "quantitative", "axis": null}, "y": {"field": "y", "type": "quantitative", "axis": null}}
        },
        {
          "data": {"name": "b"},
          "transform": [{"filter": "datum.s == 'D'"}],
          "mark": {"type": "line", "clip": true, "color": "#000", "strokeWidth": 3},
          "encoding": {"x": {"field": "x", "type": "quantitative", "axis": null}, "y": {"field": "y", "type": "quantitative", "axis": null}}
        },
        {
          "data": {"name": "lb"},
          "mark": {"type": "text", "fontSize": 37, "color": "#222", "font": "Liberation Sans"},
          "encoding": {"x": {"field": "x", "type": "quantitative", "axis": null}, "y": {"field": "y", "type": "quantitative", "axis": null}, "text": {"field": "t"}}
        },
        {
          "data": {"name": "pb"},
          "mark": {"type": "text", "fontSize": 38, "color": "#222", "font": "Liberation Sans"},
          "encoding": {
            "x": {"field": "x", "type": "quantitative", "axis": null},
            "y": {"field": "y", "type": "quantitative", "axis": {"orient": "left", "title": null, "ticks": false, "values": [0.01, 0.1, 1], "labelExpr": "datum.value == 1 ? '0' : datum.value == 0.1 ? '-1' : '-2'", "labelFontSize": 17, "labelAlign": "left", "labelPadding": 24, "labelDy": -11}},
            "text": {"field": "t"}
          }
        },
        {"data": {"name": "xt"}, "transform": [{"filter": "datum.m == 'M'"}], "mark": {"type": "rule", "y2Offset": -15},
         "encoding": {"x": {"field": "v", "type": "quantitative", "axis": null}, "y": {"datum": 0.003, "type": "quantitative", "axis": null}, "y2": {"datum": 0.003}}},
        {"data": {"name": "xt"}, "transform": [{"filter": "datum.m == 'm'"}], "mark": {"type": "rule", "y2Offset": -6},
         "encoding": {"x": {"field": "v", "type": "quantitative", "axis": null}, "y": {"datum": 0.003, "type": "quantitative", "axis": null}, "y2": {"datum": 0.003}}},
        {"data": {"name": "xt"}, "transform": [{"filter": "datum.m == 'M'"}], "mark": {"type": "rule", "y2Offset": 15},
         "encoding": {"x": {"field": "v", "type": "quantitative", "axis": null}, "y": {"datum": 3, "type": "quantitative", "axis": null}, "y2": {"datum": 3}}},
        {"data": {"name": "xt"}, "transform": [{"filter": "datum.m == 'm'"}], "mark": {"type": "rule", "y2Offset": 6},
         "encoding": {"x": {"field": "v", "type": "quantitative", "axis": null}, "y": {"datum": 3, "type": "quantitative", "axis": null}, "y2": {"datum": 3}}},
        {"data": {"name": "ytb"}, "transform": [{"filter": "datum.m == 'M'"}], "mark": {"type": "rule", "x2Offset": 15},
         "encoding": {"y": {"field": "v", "type": "quantitative", "axis": null}, "x": {"datum": 400, "type": "quantitative", "axis": null}, "x2": {"datum": 400}}},
        {"data": {"name": "ytb"}, "transform": [{"filter": "datum.m == 'm'"}], "mark": {"type": "rule", "x2Offset": 7},
         "encoding": {"y": {"field": "v", "type": "quantitative", "axis": null}, "x": {"datum": 400, "type": "quantitative", "axis": null}, "x2": {"datum": 400}}},
        {"data": {"name": "ytb"}, "transform": [{"filter": "datum.m == 'M'"}], "mark": {"type": "rule", "x2Offset": -15},
         "encoding": {"y": {"field": "v", "type": "quantitative", "axis": null}, "x": {"datum": 943, "type": "quantitative", "axis": null}, "x2": {"datum": 943}}},
        {"data": {"name": "ytb"}, "transform": [{"filter": "datum.m == 'm'"}], "mark": {"type": "rule", "x2Offset": -7},
         "encoding": {"y": {"field": "v", "type": "quantitative", "axis": null}, "x": {"datum": 943, "type": "quantitative", "axis": null}, "x2": {"datum": 943}}}
      ],
      "resolve": {"axis": {"x": "independent", "y": "independent"}}
    }
  ]
}
